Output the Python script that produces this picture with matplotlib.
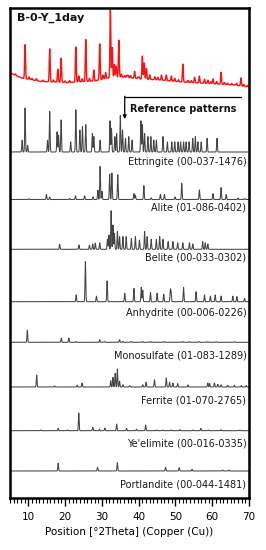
import numpy as np
import matplotlib
matplotlib.use("Agg")
import matplotlib.pyplot as plt

# ---------------- data ----------------
sample_title = "B-0-Y_1day"

# measured sample: background anchor points (2theta, distance from top edge in px units)
sample_bg_x = [5.0, 8.1, 13.5, 20.8, 28.0, 31.6, 35.3, 40.7, 46.1, 51.6, 58.8, 66.0, 70.0]
sample_bg_y = [73, 78, 81.5, 82.5, 81, 78, 77, 79, 80, 82, 83.5, 85, 87]
# measured sample peaks (2theta, height above background in px units)
sample_pk_x = [9.1, 10.2, 12.2, 15.8, 18.0, 18.9, 21.2, 22.9, 23.7, 25.6, 27.8, 29.4, 31.0,
               32.3, 32.8, 33.4, 33.9, 34.6, 35.3, 36.2, 37.1, 38.9, 39.8, 41.0, 41.5, 42.1,
               43.0, 44.4, 46.2, 47.5, 48.9, 49.8, 52.0, 53.4, 55.2, 56.5, 57.9, 58.8, 60.2,
               62.4, 64.2, 67.8, 69.6,
               6.5, 11.0, 14.0, 16.8, 20.0, 24.6, 26.6, 30.3, 36.8, 37.8, 40.1, 45.2, 50.8,
               54.3, 59.6, 61.2, 63.3, 65.3, 66.6, 68.6]
sample_pk_h = [34, 2.5, 2, 33, 13, 24, 2, 35, 6, 42, 11, 36, 6,
               68, 30, 13, 11, 37, 3, 2, 2.5, 7, 1.5, 23, 16, 11,
               4.5, 3, 5, 5.5, 5, 3, 18, 2, 5.5, 7, 4, 3.5, 5,
               12, 1.5, 8, 1.5,
               1.5, 1.5, 1.5, 2, 1.5, 3, 3, 4, 2, 2.5, 2, 2.5, 2,
               2, 2, 2.5, 2, 1.5, 2, 2]

phase_names = ["Ettringite", "Alite", "Belite", "Anhydrite", "Monosulfate",
               "Ferrite", "Ye'elimite", "Portlandite"]
phase_codes = ["00-037-1476", "01-086-0402", "00-033-0302", "00-006-0226", "01-083-1289",
               "01-070-2765", "00-016-0335", "00-044-1481"]
# vertical offset of each reference pattern and height of its strongest peak (px units)
phase_offsets = [346, 298.5, 248.7, 196.3, 155.7, 111, 67.3, 27]
phase_scales = [44, 33, 38.6, 40, 12, 18, 17.7, 8.3]
label_y = [336.3, 290, 240, 184.7, 142.5, 97.7, 54, 13.7]

ettringite_x = [8.3, 9.1, 9.8, 15.2, 15.8, 17.8, 18.2, 18.9, 21.5, 22.9, 24.0, 24.7, 25.6,
                27.4, 27.8, 29.5, 32.2, 32.6, 33.5, 34.0, 35.0, 35.6, 36.4, 37.3, 38.2,
                40.6, 41.0, 41.6, 42.5, 43.3, 44.1, 44.8, 46.6, 47.8, 49.0, 49.8, 50.7,
                51.4, 52.2, 52.9, 53.7, 54.7, 55.4, 56.1, 57.0, 58.6, 61.3]
ettringite_i = [27, 100, 15, 27, 92, 46, 38, 73, 23, 96, 50, 58, 62,
                42, 35, 27, 71, 54, 35, 42, 83, 50, 31, 35, 27,
                71, 62, 42, 35, 35, 27, 27, 35, 23, 23, 23, 23,
                23, 23, 23, 23, 31, 35, 23, 23, 31, 31]

alite_x = [10.3, 14.9, 15.8, 21.2, 22.8, 25.3, 27.6, 28.9, 29.5, 30.0, 32.1, 32.7, 34.3,
           38.7, 39.1, 41.4, 43.4, 45.9, 47.0, 49.9, 51.7, 56.5, 60.2, 62.4, 63.8, 67.0, 68.8]
alite_i = [2, 15, 8, 3, 11, 11, 8, 28, 100, 25, 77, 80, 75,
           18, 13, 42, 5, 15, 15, 8, 49, 29, 18, 36, 15, 5, 3]

belite_x = [18.5, 23.75, 26.6, 27.5, 28.2, 29.4, 31.5, 31.9, 32.5, 33.0, 33.4, 34.2, 34.8,
            35.7, 36.6, 38.0, 39.1, 40.2, 41.6, 42.3, 43.4, 44.8, 45.7, 46.6, 48.0, 49.3,
            50.6, 52.0, 53.8, 54.7, 57.4, 58.1, 58.8]
belite_i = [13, 11, 11, 14, 16, 17, 26, 37, 100, 63, 41, 46, 33,
            33, 33, 28, 33, 24, 46, 33, 26, 26, 33, 26, 20, 20,
            17, 17, 17, 14, 20, 17, 14]

anhydrite_x = [23.0, 25.5, 28.5, 31.4, 36.2, 38.7, 40.7, 41.1, 43.2, 45.0, 46.8, 48.6, 48.8,
               52.2, 55.6, 57.9, 59.5, 60.8, 62.4, 65.6, 66.7, 68.8]
anhydrite_i = [17, 100, 14, 52, 21, 33, 36, 29, 23, 21, 19, 28, 23,
               36, 25, 17, 14, 17, 14, 14, 13, 8]

monosulfate_x = [9.7, 18.95, 21.0, 23.0, 29.4, 30.7, 34.8, 35.7, 38.0, 41.1, 43.4, 47.0,
                 52.0, 53.8, 56.5, 58.8, 61.1, 66.1]
monosulfate_i = [100, 35, 35, 6, 22, 6, 22, 8, 8, 6, 6, 6,
                 6, 6, 6, 6, 5, 5]

ferrite_x = [12.25, 17.1, 23.3, 24.6, 32.4, 33.0, 33.6, 34.2, 34.8, 35.7, 37.5, 41.1, 42.0,
             44.3, 47.5, 48.4, 49.3, 50.6, 53.4, 58.8, 59.3, 60.6, 61.5, 62.4, 64.2, 66.0,
             67.9, 69.2]
ferrite_i = [67, 6, 10, 22, 35, 54, 76, 100, 32, 13, 7, 13, 26,
             40, 50, 26, 22, 19, 11, 22, 19, 22, 15, 12, 9, 9, 8, 8]

yeelimite_x = [13.4, 18.1, 20.7, 23.7, 27.5, 29.3, 30.8, 34.0, 36.7, 39.4, 41.9, 44.9, 46.5,
               48.9, 51.2, 54.8, 56.9, 58.9, 62.3, 67.5]
yeelimite_i = [4, 13, 4, 100, 19, 8, 15, 38, 13, 9, 32, 4, 4,
               4, 6, 4, 13, 4, 6, 4]

portlandite_x = [18.1, 28.8, 34.2, 47.3, 51.0, 54.5, 62.8, 64.5]
portlandite_i = [93, 45, 100, 45, 40, 20, 12, 12]

phase_peaks_x = [ettringite_x, alite_x, belite_x, anhydrite_x, monosulfate_x,
                 ferrite_x, yeelimite_x, portlandite_x]
phase_peaks_i = [ettringite_i, alite_i, belite_i, anhydrite_i, monosulfate_i,
                 ferrite_i, yeelimite_i, portlandite_i]

ref_title = "Reference patterns"

# ---------------- drawing ----------------
W, H = 266, 550
fig = plt.figure(figsize=(W / 100, H / 100), dpi=100)
ax = fig.add_axes([10 / W, 1 - 498 / H, 239 / W, 490.5 / H])
ax.set_xlim(5, 70)
ax.set_ylim(0, 490.5)

tt = np.arange(5.0, 70.0001, 0.01)


def profile(pos, amp, width):
    y = np.zeros_like(tt)
    for p, a in zip(pos, amp):
        y += a * np.exp(-0.5 * ((tt - p) / width) ** 2)
    return y


# measured sample (red)
bg = np.interp(tt, sample_bg_x, sample_bg_y)
top_base = 498.0
red = (top_base - bg) + profile(sample_pk_x, sample_pk_h, 0.12)
ax.plot(tt, red, color="#ff1010", lw=1.0)

# reference patterns
for name, code, off, sc, ly, px, pi in zip(phase_names, phase_codes, phase_offsets,
                                          phase_scales, label_y, phase_peaks_x, phase_peaks_i):
    y = off + profile(px, np.array(pi) / 100.0 * sc, 0.1)
    ax.plot(tt, y, color="#444444", lw=0.75)
    ax.text(69.3, ly, f"{name} ({code})", ha="right", va="center",
            fontsize=7, color="#1a1a1a")

# sample title
ax.text(6.9, 480.0, sample_title, ha="left", va="center", fontsize=8,
        fontweight="bold", color="#111111")

# reference patterns marker
ax.plot([36.2, 67.8], [401.3, 401.3], color="black", lw=0.9)
ax.annotate("", xy=(36.2, 379), xytext=(36.2, 401.8),
            arrowprops=dict(arrowstyle="-|>", color="black", lw=0.9,
                            mutation_scale=5, shrinkA=0, shrinkB=0))
ax.text(37.6, 389, ref_title, ha="left", va="center", fontsize=7,
        fontweight="bold", color="#111111")

# axes styling
for s in ax.spines.values():
    s.set_linewidth(1.8)
    s.set_color("black")
ax.set_yticks([])
ax.set_xticks(np.arange(10, 71, 10))
ax.set_xticks(np.arange(5, 71, 1), minor=True)
ax.tick_params(axis="x", which="major", direction="out", length=6, width=1.0,
               labelsize=7.5, pad=4, colors="black")
ax.tick_params(axis="x", which="minor", direction="out", length=3.5, width=0.8)
ax.set_xlabel("Position [°2Theta] (Copper (Cu))", fontsize=7.5, labelpad=4)

fig.savefig("out.png", dpi=100)
